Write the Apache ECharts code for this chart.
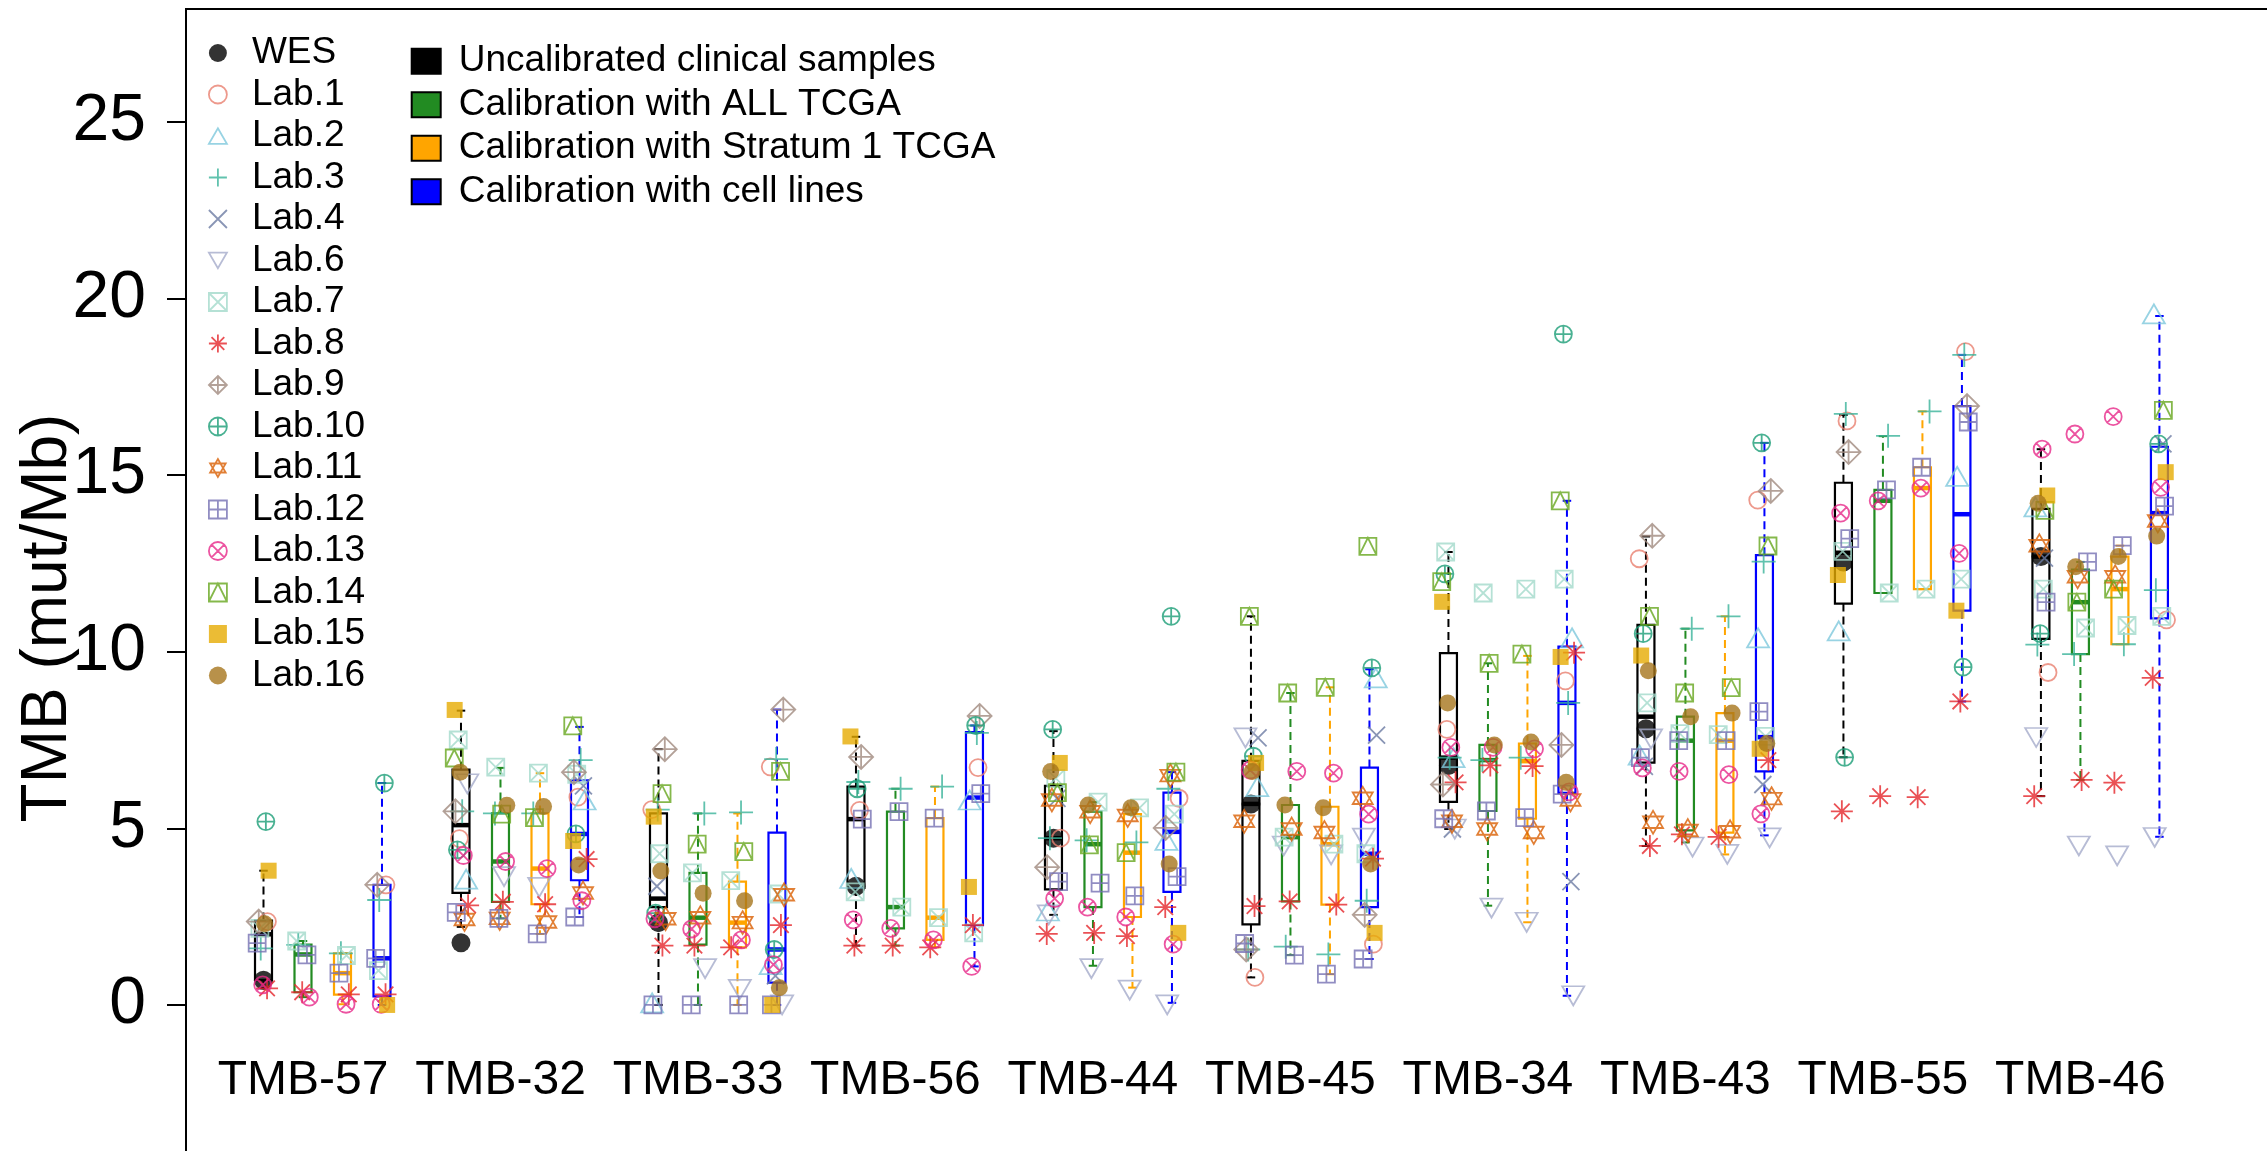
<!DOCTYPE html>
<html><head><meta charset="utf-8">
<script src="https://cdn.jsdelivr.net/npm/echarts@6/dist/echarts.min.js"></script>
<style>html,body{margin:0;padding:0;background:#fff}#c{width:2267px;height:1151px}</style>
</head><body><div id="c"></div>
<script>
// ---------------- DATA ----------------
const samples = ['TMB-57','TMB-32','TMB-33','TMB-56','TMB-44','TMB-45','TMB-34','TMB-43','TMB-55','TMB-46'];
const calibrations = ['Uncalibrated clinical samples','Calibration with ALL TCGA','Calibration with Stratum 1 TCGA','Calibration with cell lines'];
const labNames = ['Lab.1','Lab.2','Lab.3','Lab.4','Lab.6','Lab.7','Lab.8','Lab.9','Lab.10','Lab.11','Lab.12','Lab.13','Lab.14','Lab.15','Lab.16'];
const yTicks = [0,5,10,15,20,25];
const wes = [0.70,1.76,2.33,3.36,4.72,5.69,6.78,7.82,12.54,12.69];

// box statistics per sample: [lower whisker, Q1, median, Q3, upper whisker]
const boxUncalibrated = [[0.47,0.70,2.0,2.39,3.80],[2.21,3.17,5.09,6.66,8.33],[0.0,2.77,3.01,5.42,7.24],[1.68,3.31,5.26,6.18,7.59],[2.55,3.27,4.72,6.20,7.75],[0.78,2.28,5.69,6.91,11.0],[4.98,5.75,7.0,9.96,12.82],[4.50,6.86,8.16,10.76,13.26],[7.01,11.36,12.8,14.78,16.7],[5.91,10.36,12.69,14.04,15.73]];
const boxAllTCGA = [[0.22,0.36,1.43,1.71,1.81],[2.45,2.92,4.06,5.42,6.71],[0.0,1.71,2.47,3.74,5.42],[1.68,2.17,2.77,5.47,6.12],[1.11,2.77,4.55,5.47,5.74],[1.41,2.93,4.75,5.66,8.83],[2.81,5.49,6.93,7.36,9.67],[4.6,4.94,7.48,8.16,10.65],[11.66,11.66,14.27,14.58,16.1],[6.37,9.93,11.4,12.32,12.54]];
const boxStratum1 = [[0.02,0.29,0.9,1.46,1.46],[2.01,2.85,3.86,5.42,6.56],[0.0,1.63,2.33,3.49,5.42],[1.63,1.84,2.47,5.29,6.18],[0.49,2.49,4.31,5.40,5.58],[0.87,2.84,4.55,5.61,8.99],[2.34,5.27,6.9,7.40,9.88],[4.26,4.88,7.48,8.26,11.0],[11.77,11.77,14.63,15.22,16.8],[10.21,10.21,11.77,12.69,13.0]];
const boxCellLines = [[0.0,0.24,1.32,3.40,6.28],[2.49,3.53,4.84,6.36,7.87],[0.0,0.63,1.57,4.88,8.36],[1.09,2.26,5.87,7.72,7.91],[0.06,3.20,4.90,6.01,6.59],[1.30,2.77,4.28,6.72,9.5],[0.26,6.0,8.55,10.14,14.27],[4.8,6.61,7.58,12.73,15.91],[8.59,11.16,13.89,16.95,18.4],[4.76,10.94,13.92,15.80,19.5]];

// lab values: rows = [uncalibrated, ALL TCGA, Stratum 1 TCGA, cell lines], columns = samples
const N = null;
const lab1  = [[2.36,4.71,5.53,5.51,4.72,0.78,7.80,12.63,16.53,9.41],[N,N,N,N,N,N,N,N,N,N],[N,N,N,N,N,N,N,N,N,N],[3.40,5.88,6.74,6.72,5.85,1.72,9.17,14.29,18.49,10.9]];
const lab2  = [[N,3.56,0.06,3.58,2.66,6.18,7.0,7.07,10.59,14.1],[N,N,N,N,N,N,N,N,N,N],[N,N,N,N,N,N,N,N,N,N],[N,5.8,1.14,5.8,4.66,9.26,10.39,10.39,14.96,19.56]];
const lab3  = [[1.6,5.48,5.53,6.31,4.72,1.57,7.0,N,16.73,10.2],[1.7,5.42,5.42,6.12,4.66,1.65,6.93,10.65,16.11,9.93],[1.46,5.42,5.45,6.18,4.6,1.43,7.0,11.0,16.8,10.21],[2.97,6.93,6.96,7.7,6.12,2.95,8.55,12.55,18.4,11.74]];
const lab4  = [[N,N,3.36,N,5.85,7.56,4.98,6.75,N,12.65],[N,N,N,N,N,N,N,N,N,N],[N,N,N,N,N,N,N,N,N,N],[N,6.2,0.82,N,N,7.64,3.49,6.24,N,15.88]];
const lab6  = [[N,6.26,N,N,2.55,7.56,4.98,7.53,N,7.57],[N,3.63,1.03,N,1.03,4.50,2.74,4.47,N,4.50],[N,3.33,0.44,N,0.42,4.25,2.34,4.26,N,4.22],[N,N,0.0,N,0.0,4.72,0.26,4.73,N,4.74]];
const lab7  = [[2.17,7.50,4.28,3.2,6.41,N,12.82,8.55,12.84,11.77],[1.81,6.73,3.74,2.77,5.74,4.75,11.66,7.68,11.66,10.67],[1.40,6.56,3.52,2.47,5.58,4.55,11.77,7.65,11.77,10.74],[0.97,6.53,3.14,2.04,5.40,4.28,12.05,7.6,12.05,11.0]];
const lab8  = [[0.47,2.82,1.68,1.68,2.01,2.80,6.3,4.50,5.48,5.91],[0.36,2.92,1.68,1.68,2.04,2.93,6.78,4.83,5.91,6.37],[0.30,2.85,1.63,1.63,1.95,2.84,6.76,4.76,5.88,6.29],[0.30,4.13,2.26,2.26,2.77,4.14,9.97,6.93,8.59,9.26]];
const lab9  = [[2.36,5.48,7.24,7.02,3.90,1.57,6.24,13.28,15.65,N],[N,N,N,N,N,N,N,N,N,N],[N,N,N,N,N,N,N,N,N,N],[3.40,6.59,8.36,8.18,5.01,2.55,7.36,14.55,16.95,N]];
const lab10 = [[5.19,4.39,2.60,6.12,7.80,7.04,12.2,10.51,7.01,10.51],[N,N,N,N,N,N,N,N,N,N],[N,N,N,N,N,N,N,N,N,N],[6.28,4.84,1.57,7.91,11.0,9.54,18.99,15.91,9.56,15.88]];
const lab11 = [[N,2.42,2.44,N,5.80,5.20,5.2,5.17,N,13.0],[N,2.45,2.47,N,5.47,4.98,4.98,4.94,N,12.12],[N,2.35,2.33,N,5.36,4.88,4.88,4.90,N,12.12],[N,3.17,3.12,N,6.49,5.85,5.80,5.84,N,13.70]];
const lab12 = [[1.75,2.62,0.0,5.26,3.49,1.74,5.27,7.0,13.20,11.4],[1.42,2.45,0.0,5.47,3.45,1.41,5.49,7.48,14.58,12.54],[0.90,2.01,0.0,5.29,3.09,0.87,5.30,7.48,15.22,13.0],[1.32,2.49,0.0,5.98,3.63,1.30,5.97,8.30,16.5,14.12]];
const lab13 = [[0.57,4.23,2.44,2.41,3.01,6.65,7.29,6.71,13.92,15.73],[0.22,4.06,2.15,2.17,2.77,6.61,7.29,6.61,14.27,16.16],[0.02,3.86,1.84,1.84,2.49,6.56,7.25,6.52,14.63,16.65],[0.02,2.95,1.14,1.09,1.72,5.40,6.03,5.41,12.78,14.65]];
const lab14 = [[N,6.99,5.98,N,6.01,11.0,11.98,11.0,N,14.0],[N,5.40,4.55,N,4.53,8.83,9.67,8.83,N,11.4],[N,5.30,4.34,N,4.31,8.99,9.93,8.98,N,11.77],[N,7.9,6.61,N,6.59,12.98,14.27,12.99,N,16.83]];
const lab15 = [[3.80,8.35,5.33,7.6,6.85,6.85,11.41,9.89,12.17,14.42],[N,N,N,N,N,N,N,N,N,N],[N,N,N,N,N,N,N,N,N,N],[0.0,4.64,0.0,3.34,2.04,2.04,9.85,7.25,11.16,15.08]];
const lab16 = [[2.3,6.59,3.79,N,6.61,6.61,8.55,9.46,N,14.2],[N,5.65,3.16,N,5.66,5.66,7.36,8.16,N,12.4],[N,5.62,2.95,N,5.58,5.58,7.44,8.26,N,12.69],[N,3.96,0.49,N,3.99,3.99,6.3,7.4,N,13.27]];

// ---------------- STYLE / LAYOUT ----------------
const labValues = [lab1,lab2,lab3,lab4,lab6,lab7,lab8,lab9,lab10,lab11,lab12,lab13,lab14,lab15,lab16];
const boxStats = [boxUncalibrated, boxAllTCGA, boxStratum1, boxCellLines];
const boxColors = ['#000000','#228B22','#FFA500','#0000FF'];
const FF = '"Liberation Sans", Arial, Helvetica, sans-serif';

const C = 'M20,10A10,10,0,1,1,0,10A10,10,0,1,1,20,10Z';
const SQ = 'M0,0L20,0L20,20L0,20Z';
const PLUS = 'M10,0L10,20M0,10L20,10';
const XX = 'M2.93,2.93L17.07,17.07M17.07,2.93L2.93,17.07';
const labStyle = [
  {sym:'path://'+C, size:[17,17], color:'#E8806F'},
  {sym:'path://M10,0L20,17.32L0,17.32Z', size:[22,19], color:'#7EC8DC'},
  {sym:'path://'+PLUS, size:[24,24], color:'#3AB39A'},
  {sym:'path://M0,0L20,20M20,0L0,20', size:[17,17], color:'#6B7AA3'},
  {sym:'path://M0,0L20,0L10,17.32Z', size:[22,19], color:'#A5ABCB'},
  {sym:'path://'+SQ+'M0,0L20,20M20,0L0,20', size:[17,17], color:'#A3DACB'},
  {sym:'path://'+PLUS+XX, size:[22,22], color:'#E5262B'},
  {sym:'path://M10,0L20,10L10,20L0,10Z'+PLUS, size:[24,24], color:'#A08A7E'},
  {sym:'path://'+C+PLUS, size:[17,17], color:'#1B9E77'},
  {sym:'path://M10,0L18.66,15L1.34,15ZM1.34,5L18.66,5L10,20Z', size:[20,23], color:'#D95F02'},
  {sym:'path://'+SQ+PLUS, size:[17,17], color:'#7570B3'},
  {sym:'path://'+C+XX, size:[17,17], color:'#E7298A'},
  {sym:'path://'+SQ+'M0,20L10,0L20,20', size:[17,17], color:'#66A61E'},
  {sym:'rect', size:[16,16], color:'#E6AB02', filled:true},
  {sym:'circle', size:[17,17], color:'#A6761D', filled:true}
];
const jitter = [0.10,-0.14,0.06,-0.04,0.16,-0.09,-0.17,0.13,-0.07,0.09,-0.16,0.03,0.18,-0.12,-0.02];
const pos = (g, k) => 5 * g + k + 1;

function boxRenderer(color) {
  return function (params, api) {
    const p = api.value(0);
    const lo = api.coord([p, api.value(1)]);
    const x = lo[0], yLo = lo[1];
    const yQ1 = api.coord([p, api.value(2)])[1];
    const yMed = api.coord([p, api.value(3)])[1];
    const yQ3 = api.coord([p, api.value(4)])[1];
    const yHi = api.coord([p, api.value(5)])[1];
    const unit = api.size([1, 0])[0];
    const hw = unit * 0.215, sw = hw * 0.5;
    const dash = {stroke: color, lineWidth: 2, lineDash: [8, 5], fill: null};
    const solid = {stroke: color, lineWidth: 2, fill: null};
    return {type: 'group', children: [
      {type: 'line', shape: {x1: x, y1: yQ3, x2: x, y2: yHi}, style: dash},
      {type: 'line', shape: {x1: x, y1: yQ1, x2: x, y2: yLo}, style: dash},
      {type: 'line', shape: {x1: x - sw, y1: yHi, x2: x + sw, y2: yHi}, style: solid},
      {type: 'line', shape: {x1: x - sw, y1: yLo, x2: x + sw, y2: yLo}, style: solid},
      {type: 'rect', shape: {x: x - hw, y: yQ3, width: 2 * hw, height: yQ1 - yQ3}, style: {fill: 'none', stroke: color, lineWidth: 2.2}},
      {type: 'line', shape: {x1: x - hw, y1: yMed, x2: x + hw, y2: yMed}, style: {stroke: color, lineWidth: 4.5}}
    ]};
  };
}

const series = [];
calibrations.forEach((name, k) => {
  series.push({
    name, type: 'custom', z: 2, silent: true,
    renderItem: boxRenderer(boxColors[k]),
    encode: {x: 0, y: [1, 2, 3, 4, 5]},
    data: boxStats[k].map((s, g) => [pos(g, k)].concat(s))
  });
});
series.push({
  name: 'WES', type: 'scatter', z: 3, silent: true,
  symbol: 'circle', symbolSize: 19,
  itemStyle: {color: '#000'},
  data: wes.map((v, g) => [pos(g, 0), v])
});
labNames.forEach((name, li) => {
  const st = labStyle[li];
  const data = [];
  labValues[li].forEach((row, k) => row.forEach((v, g) => {
    if (v !== null) data.push([pos(g, k) + jitter[(li * 4 + g * 3 + k * 5) % 15], v]);
  }));
  series.push({
    name, type: 'scatter', z: 4, silent: true,
    symbol: st.sym, symbolSize: st.size,
    itemStyle: st.filled ? {color: st.color} : {color: 'rgba(0,0,0,0)', borderColor: st.color, borderWidth: 1.8},
    data
  });
});

const legendLabs = [{name: 'WES', icon: 'circle', itemStyle: {color: '#000', borderWidth: 0}}].concat(
  labNames.map((n, li) => {
    const st = labStyle[li];
    return {name: n, icon: st.sym,
      itemStyle: st.filled ? {color: st.color, borderWidth: 0} : {color: 'rgba(0,0,0,0)', borderColor: st.color, borderWidth: 1.8}};
  }));

const chart = echarts.init(document.getElementById('c'), null, {renderer: 'canvas'});
chart.setOption({
  animation: false,
  backgroundColor: '#ffffff',
  textStyle: {fontFamily: FF, color: '#000'},
  grid: {left: 186, top: 9, right: -20, bottom: -20, show: true, borderColor: '#000', borderWidth: 2,
         backgroundColor: 'rgba(0,0,0,0)', containLabel: false, outerBoundsMode: 'none'},
  xAxis: {
    type: 'value', min: -0.962, max: 52.23, position: 'bottom', offset: -122,
    axisLine: {show: false, onZero: false}, axisTick: {show: false}, splitLine: {show: false},
    axisLabel: {customValues: samples.map((_, i) => 5 * i + 2),
      formatter: v => samples[Math.round((v - 2) / 5)],
      fontSize: 48, lineHeight: 48, margin: 8, color: '#000', fontFamily: FF}
  },
  yAxis: {
    type: 'value', min: -4.70, max: 28.19, position: 'left',
    axisLine: {show: false, onZero: false}, splitLine: {show: false},
    axisTick: {show: true, inside: false, customValues: yTicks, length: 19, lineStyle: {color: '#000', width: 2}},
    axisLabel: {customValues: yTicks, fontSize: 66, margin: 40, color: '#000', fontFamily: FF}
  },
  legend: [
    {orient: 'vertical', left: 208, top: 34.5, padding: 0, itemWidth: 18, itemHeight: 18, itemGap: 4.5,
     selectedMode: false, textStyle: {fontSize: 37, lineHeight: 36, color: '#000', fontFamily: FF, padding: [0, 0, 0, 20]},
     data: legendLabs},
    {orient: 'vertical', left: 410.7, top: 42.7, padding: 0, itemWidth: 29, itemHeight: 25, itemGap: 6.5,
     selectedMode: false, textStyle: {fontSize: 37, lineHeight: 36, color: '#000', fontFamily: FF, padding: [0, 0, 0, 13]},
     data: calibrations.map((n, i) => ({name: n, icon: 'rect', itemStyle: {color: boxColors[i], borderColor: '#000', borderWidth: 2}}))}
  ],
  graphic: [{
    type: 'text', x: 48, y: 618, rotation: Math.PI / 2,
    style: {text: 'TMB (mut/Mb)', fontSize: 64, fontFamily: FF, fill: '#000', align: 'center', verticalAlign: 'middle'}
  }],
  series
});
</script>
</body></html>
